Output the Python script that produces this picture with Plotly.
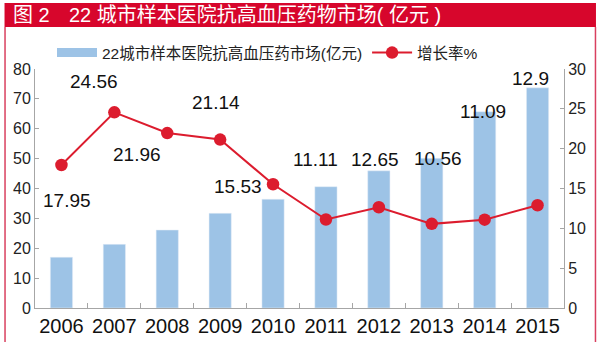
import plotly.graph_objects as go

years = ["2006", "2007", "2008", "2009", "2010", "2011", "2012", "2013", "2014", "2015"]
market = [17.0, 21.3, 26.1, 31.7, 36.4, 40.6, 45.9, 50.1, 65.7, 73.7]
growth = [17.95, 24.56, 21.96, 21.14, 15.53, 11.11, 12.65, 10.56, 11.09, 12.9]
growth_labels = ["17.95", "24.56", "21.96", "21.14", "15.53", "11.11", "12.65", "10.56", "11.09", "12.9"]
# label offsets in pixels (styling)
label_dx = [6, -20, -30, -4, -35, -10, -4, 6, -2, -7]
label_dy = [-35, 31, -21, 37, -2, 60, 48, 65, 108, 127]

bar_name = "22城市样本医院抗高血压药市场(亿元)"
line_name = "增长率%"
title_a = "图 2"
title_b = "22 城市样本医院抗高血压药物市场( 亿元 )"

FONT = "Arial, 'Liberation Sans', 'Noto Sans CJK SC', sans-serif"
BAR_C = "#9dc3e6"
RED = "#dc1c2e"
BAND = "#d7062c"
BORDER = "#d9405f"
AX = "#a6a6a6"

W, H = 600, 342
L, R, T, B = 34.5, 36, 69, 34
pw = W - L - R
ph = H - T - B

def px2x(p):
    return (p - L) / pw

def py2y(p):
    return (H - B - p) / ph

fig = go.Figure()
fig.add_trace(go.Bar(x=years, y=market, name=bar_name, marker_color=BAR_C,
                     width=0.42, showlegend=False, yaxis="y"))
# legend proxy for the bar series (wide flat swatch)
fig.add_trace(go.Scatter(x=[years[0]], y=[-100], mode="lines", name=bar_name,
                         line=dict(color=BAR_C, width=9), yaxis="y"))
fig.add_trace(go.Scatter(x=years, y=growth, name=line_name, mode="lines+markers",
                         line=dict(color=RED, width=2),
                         marker=dict(color=RED, size=12.5), yaxis="y2"))

for i, (g, t, dx, dy) in enumerate(zip(growth, growth_labels, label_dx, label_dy)):
    fig.add_annotation(x=i, y=g, xref="x", yref="y2", text=t, showarrow=False,
                       xshift=dx, yshift=dy, font=dict(size=19, color="#111", family=FONT))

# title band and frame
fig.add_shape(type="rect", xref="paper", yref="paper", x0=px2x(4), x1=px2x(596),
              y0=py2y(27), y1=py2y(3), fillcolor=BAND, line_width=0, layer="below")
for xp in (4.5, 595.5):
    fig.add_shape(type="line", xref="paper", yref="paper", x0=px2x(xp), x1=px2x(xp),
                  y0=py2y(27), y1=py2y(345), line=dict(color=BORDER, width=1.5))
fig.add_annotation(xref="paper", yref="paper", x=px2x(10), y=py2y(15), xanchor="left",
                   yanchor="middle", text=title_a, showarrow=False,
                   font=dict(size=20, color="white", family=FONT))
fig.add_annotation(xref="paper", yref="paper", x=px2x(67), y=py2y(15), xanchor="left",
                   yanchor="middle", text=title_b, showarrow=False,
                   font=dict(size=20, color="white", family=FONT))

fig.update_layout(
    width=W, height=H,
    margin=dict(l=L, r=R, t=T, b=B, pad=0, autoexpand=False),
    paper_bgcolor="white", plot_bgcolor="white",
    font=dict(family=FONT, color="#222"),
    showlegend=True,
    legend=dict(orientation="h", xref="container", yref="container",
                x=52 / W, y=1 - 53 / H, xanchor="left", yanchor="middle",
                font=dict(size=15.5, color="#222", family=FONT),
                itemwidth=40, tracegroupgap=0, bgcolor="rgba(0,0,0,0)"),
    xaxis=dict(type="category", categoryorder="array", categoryarray=years,
               range=[-0.5, len(years) - 0.5], showline=True, linecolor=AX, linewidth=1,
               ticks="inside", tickson="boundaries", ticklen=5, tickcolor=AX, tickangle=0,
               tickfont=dict(size=20, color="#111"), showgrid=False, zeroline=False),
    yaxis=dict(range=[0, 80], dtick=10, showline=True, linecolor=AX, linewidth=1,
               ticks="inside", ticklen=4, tickcolor=AX, showgrid=False, zeroline=False,
               tickfont=dict(size=16, color="#222")),
    yaxis2=dict(range=[0, 30], dtick=5, overlaying="y", side="right", showline=True,
                linecolor=AX, linewidth=1, ticks="inside", ticklen=4, tickcolor=AX,
                showgrid=False, zeroline=False, tickfont=dict(size=16, color="#222")),
)

fig.write_html("out.html")
